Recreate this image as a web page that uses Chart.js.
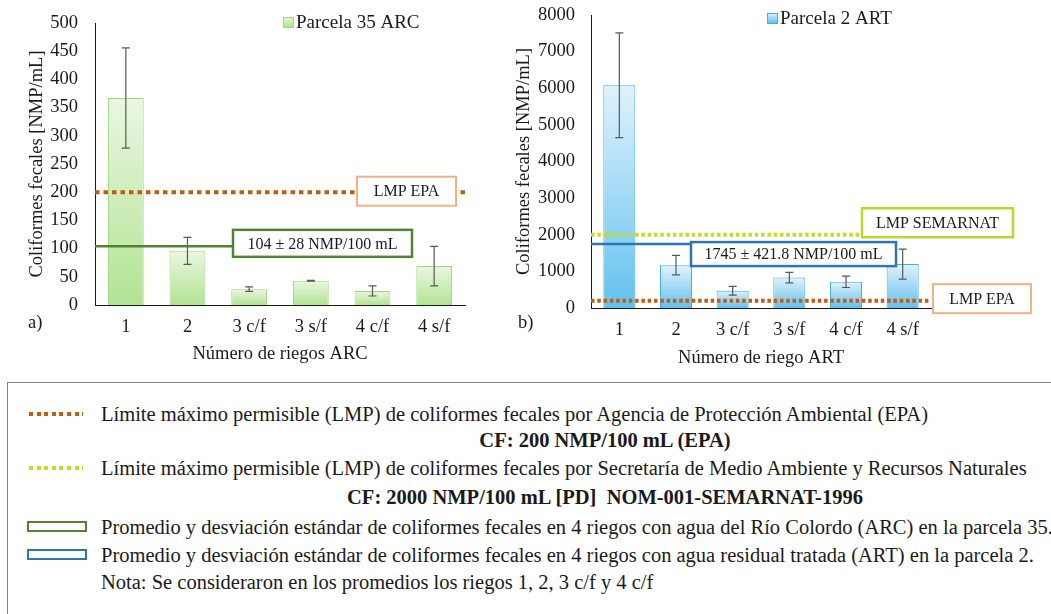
<!DOCTYPE html>
<html lang="es">
<head>
<meta charset="utf-8">
<title>Coliformes fecales por riego</title>
<script src="https://cdn.jsdelivr.net/npm/chart.js@4.4.1/dist/chart.umd.min.js"></script>
<style>
    html, body { margin: 0; padding: 0; background: #fff; }
    body {
        width: 1051px; height: 614px; position: relative; overflow: hidden;
        font-family: "Liberation Serif", "Times New Roman", serif; color: #1a1a1a;
    }
    .panel { position: absolute; top: 0; height: 375px; }
    #panelA { left: 0; width: 500px; }
    #panelB { left: 500px; width: 551px; }
    #notas {
        position: absolute; left: 7px; top: 382px; width: 1070px; height: 260px;
        border: 1.5px solid #7f7f7f; box-sizing: border-box;
    }
    .fila { position: absolute; left: 101px; white-space: nowrap; font-size: 20.5px; line-height: 22px; }
    .centro { left: 0; width: 1210px; text-align: center; font-weight: bold; }
    .puntos { position: absolute; left: 29px; width: 54px; height: 4px; }
    .caja { position: absolute; left: 27px; width: 60px; height: 11px; box-sizing: border-box; border: 2px solid; }
</style>
</head>
<body>
<div class="panel" id="panelA"><canvas id="graficoArc"></canvas></div>
<div class="panel" id="panelB"><canvas id="graficoArt"></canvas></div>

<div id="notas"></div>
<div class="puntos" style="top:412px; background:repeating-linear-gradient(to right,#c55a11 0 4px,transparent 4px 7.6px)"></div>
<div class="fila" style="top:403px">Límite máximo permisible (LMP) de coliformes fecales por Agencia de Protección Ambiental (EPA)</div>
<div class="fila centro" style="top:429px">CF: 200 NMP/100 mL (EPA)</div>
<div class="puntos" style="top:466px; background:repeating-linear-gradient(to right,#c8dc22 0 4px,transparent 4px 7.6px)"></div>
<div class="fila" style="top:457px">Límite máximo permisible (LMP) de coliformes fecales por Secretaría de Medio Ambiente y Recursos Naturales</div>
<div class="fila centro" style="top:486px">CF: 2000 NMP/100 mL [PD]&nbsp; NOM-001-SEMARNAT-1996</div>
<div class="caja" style="top:521px; border-color:#548235"></div>
<div class="fila" style="top:516px">Promedio y desviación estándar de coliformes fecales en 4 riegos con agua del Río Colordo (ARC) en la parcela 35.</div>
<div class="caja" style="top:549px; border-color:#2e75b6"></div>
<div class="fila" style="top:544px">Promedio y desviación estándar de coliformes fecales en 4 riegos con agua residual tratada (ART) en la parcela 2.</div>
<div class="fila" style="top:571px">Nota: Se consideraron en los promedios los riegos 1, 2, 3 c/f y 4 c/f</div>

<script>
const riegos = ['1', '2', '3 c/f', '3 s/f', '4 c/f', '4 s/f'];

// Parcela 35, agua del Río Colorado (ARC)
const cfArc = [367, 96, 28, 43, 25, 69];
const desvArc = [89, 24, 4, 0.5, 9, 35];
const ticksArc = [0, 50, 100, 150, 200, 250, 300, 350, 400, 450, 500];
const mediaArc = 104;
const desvMediaArc = 28;

// Parcela 2, agua residual tratada (ART)
const cfArt = [6080, 1170, 470, 830, 715, 1200];
const desvArt = [1430, 265, 120, 145, 155, 410];
const ticksArt = [0, 1000, 2000, 3000, 4000, 5000, 6000, 7000, 8000];
const mediaArt = 1745;
const desvMediaArt = 421.8;

// Límites máximos permisibles
const lmpEpa = 200;
const lmpSemarnat = 2000;

const FUENTE = '"Liberation Serif", "Times New Roman", serif';

// Degradado vertical de cada barra: claro arriba, más intenso en la base
function rellenoBarra(claro, intenso) {
    return ctx => {
        const chart = ctx.chart;
        const y = chart.scales.y;
        if (!chart.chartArea || !y || ctx.type !== 'data') return intenso;
        const top = y.getPixelForValue(ctx.raw);
        const base = y.getPixelForValue(0);
        if (!isFinite(top) || base - top < 1) return intenso;
        const g = chart.ctx.createLinearGradient(0, top, 0, base);
        g.addColorStop(0, claro);
        g.addColorStop(1, intenso);
        return g;
    };
}

// Barras de error, líneas de referencia con su recuadro, leyenda y letra del panel
const extras = {
    id: 'extras',
    afterDatasetsDraw(chart, args, opts) {
        const ctx = chart.ctx;
        const area = chart.chartArea;
        const y = chart.scales.y;
        const meta = chart.getDatasetMeta(0);

        ctx.save();
        ctx.strokeStyle = '#595959';
        ctx.lineWidth = 1.2;
        meta.data.forEach((barra, i) => {
            const v = opts.valores[i];
            const d = opts.desv[i];
            const y1 = y.getPixelForValue(v + d);
            const y2 = y.getPixelForValue(v - d);
            ctx.beginPath();
            ctx.moveTo(barra.x, y1); ctx.lineTo(barra.x, y2);
            ctx.moveTo(barra.x - 4, y1); ctx.lineTo(barra.x + 4, y1);
            ctx.moveTo(barra.x - 4, y2); ctx.lineTo(barra.x + 4, y2);
            ctx.stroke();
        });

        opts.lineas.forEach(l => {
            const py = y.getPixelForValue(l.valor);
            ctx.beginPath();
            ctx.setLineDash(l.guion || []);
            ctx.strokeStyle = l.color;
            ctx.lineWidth = l.grosor;
            ctx.moveTo(area.left, py);
            ctx.lineTo(l.hasta || area.right, py);
            ctx.stroke();
            ctx.setLineDash([]);

            const c = l.caja;
            const top = py + c.dy - c.alto / 2;
            ctx.fillStyle = '#fff';
            ctx.fillRect(c.x, top, c.ancho, c.alto);
            ctx.strokeStyle = c.borde;
            ctx.lineWidth = c.grosor;
            ctx.strokeRect(c.x, top, c.ancho, c.alto);
            ctx.fillStyle = '#1a1a1a';
            ctx.font = '16px ' + FUENTE;
            ctx.textAlign = 'center';
            ctx.textBaseline = 'middle';
            ctx.fillText(l.texto, c.x + c.ancho / 2, top + c.alto / 2 + 1);
        });

        // leyenda de la serie
        const ley = opts.leyenda;
        const ds = chart.data.datasets[0];
        const g = ctx.createLinearGradient(0, ley.y - 5, 0, ley.y + 5);
        g.addColorStop(0, ley.claro);
        g.addColorStop(1, ley.intenso);
        ctx.fillStyle = g;
        ctx.fillRect(ley.x, ley.y - 5, 10, 10);
        ctx.strokeStyle = ds.borderColor;
        ctx.lineWidth = 1;
        ctx.strokeRect(ley.x + 0.5, ley.y - 4.5, 10, 10);
        ctx.fillStyle = '#1a1a1a';
        ctx.font = '19px ' + FUENTE;
        ctx.textAlign = 'left';
        ctx.textBaseline = 'middle';
        ctx.fillText(ds.label, ley.x + 13, ley.y + 1);

        ctx.font = '18.5px ' + FUENTE;
        ctx.fillText(opts.letra.texto, opts.letra.x, opts.letra.y);
        ctx.restore();
    }
};

function crearGrafico(id, cfg) {
    const ctx = document.getElementById(id).getContext('2d');
    return new Chart(ctx, {
        type: 'bar',
        data: {
            labels: riegos,
            datasets: [{
                label: cfg.serie,
                data: cfg.valores,
                backgroundColor: rellenoBarra(cfg.claro, cfg.intenso),
                borderColor: cfg.borde,
                borderWidth: 1,
                categoryPercentage: 1,
                barPercentage: cfg.anchoBarra
            }]
        },
        options: {
            responsive: true,
            maintainAspectRatio: false,
            animation: false,
            layout: { padding: cfg.padding },
            plugins: {
                legend: { display: false },
                tooltip: { enabled: false },
                extras: {
                    valores: cfg.valores,
                    desv: cfg.desv,
                    lineas: cfg.lineas,
                    leyenda: cfg.leyenda,
                    letra: cfg.letra
                }
            },
            scales: {
                x: {
                    grid: { display: false, drawTicks: false },
                    border: { display: true, color: '#1a1a1a', width: 1 },
                    ticks: { color: '#1a1a1a', font: { family: FUENTE, size: 18.5 }, padding: cfg.padX },
                    title: {
                        display: true, text: cfg.tituloX, color: '#1a1a1a',
                        font: { family: FUENTE, size: 18.5 }, padding: { top: 0, bottom: cfg.padTituloX }
                    },
                    afterFit: s => { s.height = cfg.altoX; }
                },
                y: {
                    min: cfg.ticks[0],
                    max: cfg.ticks[cfg.ticks.length - 1],
                    afterBuildTicks: s => { s.ticks = cfg.ticks.map(v => ({ value: v })); },
                    grid: { display: false, drawTicks: false },
                    border: { display: true, color: '#1a1a1a', width: 1 },
                    ticks: {
                        color: '#1a1a1a', font: { family: FUENTE, size: 18.5 }, padding: cfg.padY,
                        callback: v => String(v)
                    },
                    title: {
                        display: true, text: 'Coliformes fecales [NMP/mL]', color: '#1a1a1a',
                        font: { family: FUENTE, size: 18.5 }, padding: { top: cfg.padTituloY, bottom: 0 }
                    },
                    afterFit: s => {
                        s.width = cfg.anchoY;
                        // sin reserva extra arriba: el área empieza donde dice layout.padding
                        s.paddingTop = 8;
                        s.paddingBottom = 8;
                    }
                }
            }
        },
        plugins: [extras]
    });
}

crearGrafico('graficoArc', {
    serie: 'Parcela 35 ARC',
    valores: cfArc,
    desv: desvArc,
    ticks: ticksArc,
    claro: '#eaf7e1', intenso: '#b2e393', borde: '#a3d684',
    anchoBarra: 0.58,
    padding: { top: 23, right: 35, bottom: 0, left: 0 },
    anchoY: 95, padY: 17, padTituloY: 26,
    altoX: 70, padX: 11, padTituloX: 10,
    tituloX: 'Número de riegos ARC',
    leyenda: { x: 283, y: 22, claro: '#eaf7e1', intenso: '#b2e393' },
    letra: { texto: 'a)', x: 28, y: 323 },
    lineas: [
        { valor: lmpEpa, color: '#c55a11', grosor: 4, guion: [4.5, 4], texto: 'LMP EPA',
          caja: { x: 357, ancho: 99, alto: 29, dy: -1, borde: '#f4b183', grosor: 2 } },
        { valor: mediaArc, color: '#548235', grosor: 2.5, hasta: 233,
          texto: `${mediaArc} ± ${desvMediaArc} NMP/100 mL`,
          caja: { x: 233, ancho: 179, alto: 27, dy: -3, borde: '#548235', grosor: 2.5 } }
    ]
});

crearGrafico('graficoArt', {
    serie: 'Parcela 2 ART',
    valores: cfArt,
    desv: desvArt,
    ticks: ticksArt,
    claro: '#e0f2fc', intenso: '#63c1ed', borde: '#45b0e0',
    anchoBarra: 0.565,
    padding: { top: 15, right: 120, bottom: 0, left: 0 },
    anchoY: 91, padY: 16, padTituloY: 13,
    altoX: 67, padX: 11, padTituloX: 6,
    tituloX: 'Número de riego ART',
    leyenda: { x: 267, y: 18, claro: '#e0f2fc', intenso: '#63c1ed' },
    letra: { texto: 'b)', x: 18, y: 323 },
    lineas: [
        { valor: lmpSemarnat, color: '#c8dc22', grosor: 4, guion: [3.5, 2.8], texto: 'LMP SEMARNAT',
          caja: { x: 362, ancho: 151, alto: 29, dy: -12, borde: '#c2d62a', grosor: 2.5 } },
        { valor: mediaArt, color: '#2e75b6', grosor: 2.5, hasta: 191,
          texto: `${mediaArt} ± ${desvMediaArt} NMP/100 mL`,
          caja: { x: 191, ancho: 205, alto: 24, dy: 10, borde: '#2e75b6', grosor: 2.5 } },
        { valor: lmpEpa, color: '#c55a11', grosor: 4, guion: [3.5, 2.8], texto: 'LMP EPA',
          caja: { x: 433, ancho: 98, alto: 29, dy: -2, borde: '#f4b183', grosor: 2 } }
    ]
});
</script>
</body>
</html>
